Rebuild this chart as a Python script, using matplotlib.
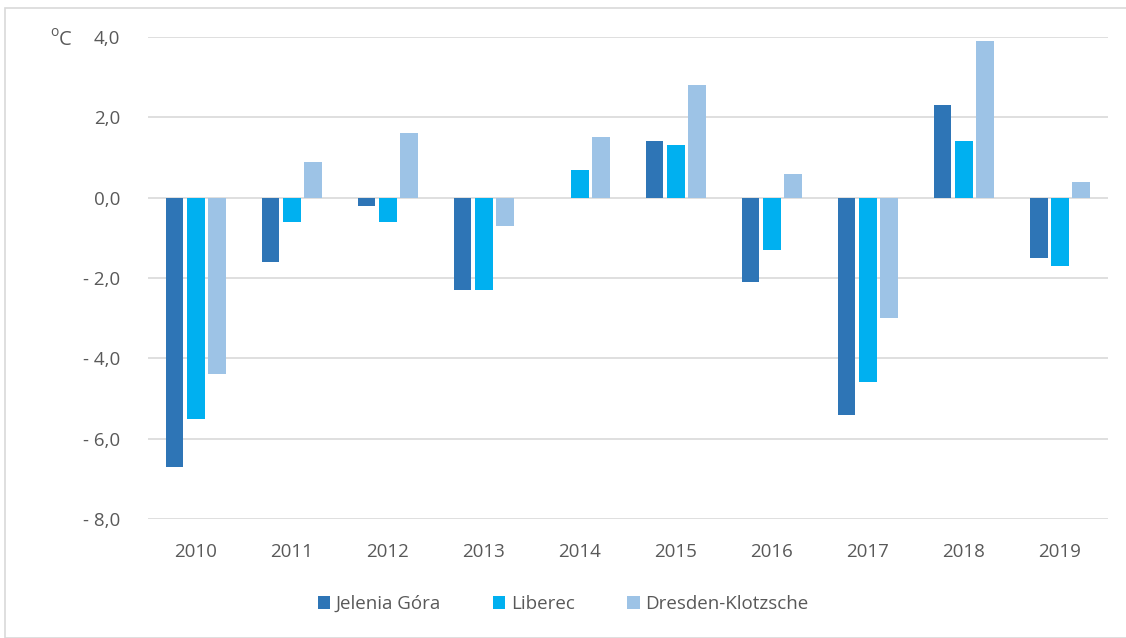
import numpy as np
import matplotlib.pyplot as plt
from matplotlib.patches import Rectangle

years = ["2010", "2011", "2012", "2013", "2014", "2015", "2016", "2017", "2018", "2019"]
jelenia_gora = [-6.7, -1.6, -0.2, -2.3, 0.0, 1.4, -2.1, -5.4, 2.3, -1.5]
liberec = [-5.5, -0.6, -0.6, -2.3, 0.7, 1.3, -1.3, -4.6, 1.4, -1.7]
dresden = [-4.4, 0.9, 1.6, -0.7, 1.5, 2.8, 0.6, -3.0, 3.9, 0.4]
y_ticks = [4, 2, 0, -2, -4, -6, -8]

series = [
    ("Jelenia Góra", jelenia_gora, "#2E75B6"),
    ("Liberec", liberec, "#00B0F0"),
    ("Dresden-Klotzsche", dresden, "#9DC3E6"),
]

plt.rcParams['font.family'] = ['Open Sans', 'DejaVu Sans']
text_color = "#595959"

fig = plt.figure(figsize=(11.26, 6.38), dpi=100)
ax = fig.add_axes([0.1314, 0.1865, 0.8526, 0.7555])

x = np.arange(len(years))
width = 0.18
offsets = [-0.22, 0.0, 0.22]
for (name, vals, color), off in zip(series, offsets):
    ax.bar(x + off, vals, width, color=color, label=name, zorder=3)

ax.set_xlim(-0.5, len(years) - 0.5)
ax.set_ylim(-8, 4)
ax.set_yticks(y_ticks)
ax.set_yticklabels([f"{v:.1f}".replace(".", ",").replace("-", "- ") for v in y_ticks])
ax.set_xticks(x)
ax.set_xticklabels(years)
ax.tick_params(axis='both', length=0, labelsize=13.5, colors=text_color)
ax.tick_params(axis='y', pad=20)
ax.tick_params(axis='x', pad=17)
ax.yaxis.grid(True, color="#D9D9D9", linewidth=1.2, zorder=0)
for s in ax.spines.values():
    s.set_visible(False)

# degree unit: small raised "o" followed by "C"
fig.text(50 / 1126, 1 - 33 / 638, "o", fontsize=10, color=text_color, va='center', ha='left')
fig.text(59 / 1126, 1 - 40 / 638, "C", fontsize=14.5, color=text_color, va='center', ha='left')

ax.legend(loc='center', bbox_to_anchor=(0.5, 1 - 604 / 638), bbox_transform=fig.transFigure,
          ncol=3, frameon=False, fontsize=13.5, labelcolor=text_color,
          handlelength=0.65, handleheight=0.65, handletextpad=0.3, columnspacing=2.8)

fig.patches.append(Rectangle((5 / 1126, 0), 1.2, 1 - 8 / 638, transform=fig.transFigure,
                             fill=False, edgecolor="#D9D9D9", linewidth=1.2))

fig.savefig("out.png", dpi=100)
